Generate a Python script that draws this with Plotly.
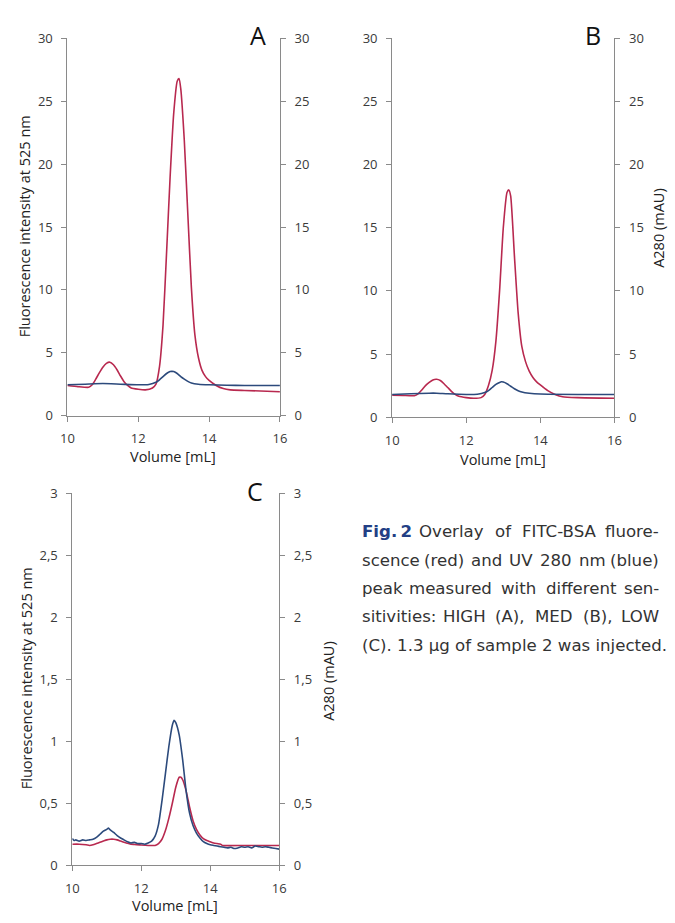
import plotly.graph_objects as go

W, H = 675, 923

# ---------------- data ----------------
# Panel A (HIGH)
a_red_x = [10.0, 10.3, 10.6, 10.7, 10.8, 10.9, 11.0, 11.1, 11.2, 11.3, 11.4, 11.5, 11.6, 11.7, 11.8, 12.0, 12.2,
           12.4, 12.5, 12.6, 12.7, 12.8, 12.9, 13.0, 13.1, 13.15, 13.2, 13.3, 13.4, 13.5, 13.6, 13.7, 13.8, 13.9,
           14.0, 14.2, 14.4, 14.6, 15.0, 16.0]
a_red_y = [2.4, 2.3, 2.25, 2.45, 2.9, 3.4, 3.85, 4.15, 4.25, 4.05, 3.65, 3.15, 2.7, 2.4, 2.2, 2.1, 2.05,
           2.2, 2.5, 3.9, 7.2, 13.0, 19.0, 24.0, 26.6, 26.8, 26.0, 21.9, 16.0, 10.2, 6.4, 4.6, 3.6, 3.1,
           2.8, 2.4, 2.15, 2.05, 2.0, 1.9]
a_blue_x = [10.0, 10.5, 11.0, 11.5, 12.0, 12.3, 12.5, 12.6, 12.7, 12.8, 12.9, 12.95, 13.0, 13.1, 13.2, 13.3,
            13.4, 13.5, 13.7, 14.0, 14.5, 15.0, 16.0]
a_blue_y = [2.45, 2.5, 2.55, 2.5, 2.45, 2.48, 2.65, 2.85, 3.1, 3.35, 3.5, 3.52, 3.5, 3.35, 3.1, 2.9,
            2.72, 2.6, 2.5, 2.45, 2.42, 2.4, 2.4]

# Panel B (MED)
b_red_x = [10.0, 10.3, 10.6, 10.7, 10.8, 10.9, 11.0, 11.1, 11.2, 11.3, 11.4, 11.5, 11.6, 11.7, 11.8, 12.0, 12.2,
           12.4, 12.5, 12.6, 12.7, 12.8, 12.9, 13.0, 13.1, 13.15, 13.2, 13.3, 13.4, 13.5, 13.6, 13.7, 13.8,
           13.9, 14.0, 14.2, 14.4, 14.6, 15.0, 16.0]
b_red_y = [1.75, 1.72, 1.7, 1.85, 2.15, 2.5, 2.75, 2.95, 3.0, 2.9, 2.65, 2.35, 2.05, 1.8, 1.65, 1.55, 1.5,
           1.55, 1.8, 2.5, 3.7, 6.0, 10.0, 15.0, 17.8, 18.0, 17.5, 12.8, 8.3, 5.6, 4.4, 3.65, 3.15,
           2.8, 2.55, 2.1, 1.8, 1.62, 1.55, 1.5]
b_blue_x = [10.0, 10.5, 11.0, 11.2, 11.5, 12.0, 12.3, 12.5, 12.6, 12.7, 12.8, 12.9, 12.95, 13.0, 13.1, 13.2,
            13.3, 13.4, 13.5, 13.7, 14.0, 15.0, 16.0]
b_blue_y = [1.8, 1.85, 1.9, 1.9, 1.85, 1.8, 1.82, 1.95, 2.1, 2.35, 2.6, 2.75, 2.8, 2.78, 2.65, 2.45,
            2.25, 2.1, 2.0, 1.9, 1.83, 1.8, 1.8]

# Panel C (LOW)
c_red_x = [10.0, 10.2, 10.4, 10.5, 10.6, 10.7, 10.8, 10.9, 11.0, 11.1, 11.2, 11.3, 11.4, 11.5, 11.6, 11.7, 11.8,
           12.0, 12.2, 12.4, 12.5, 12.6, 12.7, 12.8, 12.9, 13.0, 13.1, 13.15, 13.2, 13.3, 13.4, 13.5, 13.6,
           13.7, 13.8, 13.9, 14.0, 14.1, 14.2, 14.3, 14.35, 15.0, 16.0]
c_red_y = [0.17, 0.17, 0.165, 0.16, 0.165, 0.175, 0.185, 0.195, 0.205, 0.21, 0.21, 0.205, 0.195, 0.185, 0.178,
           0.17, 0.168, 0.163, 0.16, 0.16, 0.175, 0.21, 0.28, 0.38, 0.5, 0.63, 0.71, 0.71, 0.69, 0.6, 0.47,
           0.36, 0.29, 0.245, 0.215, 0.2, 0.19, 0.18, 0.175, 0.17, 0.16, 0.16, 0.16]
c_blue_x = [10.0, 10.05, 10.1, 10.2, 10.3, 10.4, 10.5, 10.6, 10.7, 10.8, 10.9, 11.0, 11.05, 11.1, 11.2, 11.3,
            11.4, 11.5, 11.6, 11.7, 11.8, 11.9, 12.0, 12.1, 12.2, 12.3, 12.4, 12.5, 12.6, 12.7, 12.8, 12.9,
            12.95, 13.0, 13.1, 13.2, 13.3, 13.4, 13.5, 13.6, 13.7, 13.8, 13.9, 14.0, 14.1, 14.2, 14.3, 14.4,
            14.5, 14.6, 14.7, 14.8, 14.9, 15.0, 15.1, 15.2, 15.3, 15.4, 15.5, 15.6, 15.7, 15.8, 15.9, 16.0]
c_blue_y = [0.215, 0.2, 0.205, 0.195, 0.205, 0.2, 0.205, 0.21, 0.225, 0.25, 0.275, 0.29, 0.3, 0.285, 0.265, 0.24,
            0.22, 0.205, 0.19, 0.18, 0.185, 0.175, 0.175, 0.17, 0.18, 0.195, 0.235, 0.33, 0.52, 0.74, 0.96, 1.13,
            1.17, 1.15, 1.05, 0.85, 0.6, 0.42, 0.32, 0.26, 0.22, 0.19, 0.175, 0.165, 0.16, 0.155, 0.15, 0.145,
            0.14, 0.145, 0.135, 0.14, 0.15, 0.145, 0.15, 0.14, 0.155, 0.15, 0.145, 0.15, 0.145, 0.14, 0.135, 0.13]

x_ticks = [10, 12, 14, 16]
ab_y_ticks = [0, 5, 10, 15, 20, 25, 30]
c_y_ticks = [0, 0.5, 1, 1.5, 2, 2.5, 3]
c_y_ticktext = ["0", "0,5", "1", "1,5", "2", "2,5", "3"]

caption_label = "Fig.\u202f2"
caption_words = [
    ["Overlay", "of", "FITC-BSA", "fluore-"],
    ["scence", "(red)", "and", "UV", "280", "nm", "(blue)"],
    ["peak", "measured", "with", "different", "sen-"],
    ["sitivities:", "HIGH", "(A),", "MED", "(B),", "LOW"],
]
caption_last = "(C). 1.3 \u00b5g of sample 2 was injected."

# ---------------- styling / layout ----------------
RED = "#b8294f"
BLUE = "#2c4a7c"
AXC = "#8a8a8a"
TXT = "#3a3a3a"
FONT = "Open Sans"
CAPFONT = "DejaVu Sans"
CAP_SIZE = 16.6
CAP_LEFT, CAP_RIGHT = 360, 668
CAP_TOP, CAP_STEP = 533, 29

# approximate DejaVu Sans advance widths (em) used to justify the caption lines
_REG = {" ": .318, "(": .390, ")": .390, ",": .318, "-": .361, ".": .318, ":": .337,
        "A": .684, "B": .686, "C": .698, "D": .770, "E": .632, "F": .575, "G": .775, "H": .752, "I": .295,
        "L": .557, "M": .863, "O": .787, "S": .635, "T": .611, "U": .732, "V": .684, "W": .989,
        "a": .613, "b": .635, "c": .550, "d": .635, "e": .615, "f": .352, "g": .635, "h": .634, "i": .278,
        "k": .579, "l": .278, "m": .974, "n": .634, "o": .612, "p": .635, "r": .411, "s": .521, "t": .392,
        "u": .634, "v": .592, "w": .818, "y": .592}
_BOLD = {"F": .683, "i": .343, "g": .716, ".": .380, "2": .696, "\u202f": .2}


def text_w(s, bold=False):
    tab = _BOLD if bold else _REG
    return sum(tab.get(ch, _REG.get(ch, .636)) for ch in s) * CAP_SIZE


def px_x(p):
    return p / W


def px_y(p):
    return 1 - p / H


fig = go.Figure()

panels = [
    dict(x="x", yl="y", yr="y2", xd=(61.7, 278.7), yd=(30, 414.7),
         red=(a_red_x, a_red_y), blue=(a_blue_x, a_blue_y), yr_=(0, 30)),
    dict(x="x2", yl="y3", yr="y4", xd=(393.3, 620.3), yd=(30, 416.3),
         red=(b_red_x, b_red_y), blue=(b_blue_x, b_blue_y), yr_=(0, 30)),
    dict(x="x3", yl="y5", yr="y6", xd=(66.7, 278.0), yd=(494, 873.3),
         red=(c_red_x, c_red_y), blue=(c_blue_x, c_blue_y), yr_=(0, 3)),
]

layout = dict(
    width=W, height=H, margin=dict(l=0, r=0, t=0, b=0),
    paper_bgcolor="white", plot_bgcolor="white", showlegend=False,
    font=dict(family=FONT, size=13, color=TXT),
)

for i, p in enumerate(panels):
    fig.add_trace(go.Scatter(x=p["blue"][0], y=p["blue"][1], mode="lines", xaxis=p["x"], yaxis=p["yr"],
                             line=dict(color=BLUE, width=1.6, shape="spline", smoothing=0.5)))
    fig.add_trace(go.Scatter(x=p["red"][0], y=p["red"][1], mode="lines", xaxis=p["x"], yaxis=p["yl"],
                             line=dict(color=RED, width=1.6, shape="spline", smoothing=0.5)))
    xk = "xaxis" if p["x"] == "x" else "xaxis" + p["x"][1:]
    ylk = "yaxis" if p["yl"] == "y" else "yaxis" + p["yl"][1:]
    yrk = "yaxis" + p["yr"][1:]
    common = dict(showline=True, linecolor=AXC, linewidth=1, ticks="outside", ticklen=5, tickcolor=AXC,
                  showgrid=False, zeroline=False, ticklabelstandoff=6,
                  tickfont=dict(family=FONT, size=13, color=TXT))
    layout[xk] = dict(domain=[px_x(p["xd"][0]), px_x(p["xd"][1])], range=[10, 16], tickvals=x_ticks,
                      anchor=p["yl"], **common)
    ydom = [px_y(p["yd"][1]), px_y(p["yd"][0])]
    if i < 2:
        yt = dict(tickvals=ab_y_ticks)
    else:
        yt = dict(tickvals=c_y_ticks, ticktext=c_y_ticktext)
    layout[ylk] = dict(domain=ydom, range=list(p["yr_"]), anchor=p["x"], side="left", **yt, **common)
    layout[yrk] = dict(domain=ydom, range=list(p["yr_"]), anchor=p["x"], side="right", overlaying=p["yl"],
                       **yt, **common)

fig.update_layout(**layout)

ann = []
for txt, xp, yp in [("A", 256, 27), ("B", 598, 27), ("C", 253, 492)]:
    ann.append(dict(text=txt, x=px_x(xp), y=px_y(yp), xref="paper", yref="paper", showarrow=False,
                    xanchor="center", yanchor="middle", font=dict(family=FONT, size=25, color="#111")))
for txt, xp, yp, ang in [
    ("Fluorescence intensity at 525 nm", 18, 222, -90),
    ("Fluorescence intensity at 525 nm", 20, 683, -90),
    ("A280 (mAU)", 665, 223, -90),
    ("A280 (mAU)", 328, 685, -90),
    ("Volume [mL]", 170, 456, 0),
    ("Volume [mL]", 507, 459, 0),
    ("Volume [mL]", 172, 914, 0),
]:
    ann.append(dict(text=txt, x=px_x(xp), y=px_y(yp), xref="paper", yref="paper", showarrow=False,
                    xanchor="center", yanchor="middle", textangle=ang,
                    font=dict(family=FONT, size=14.5, color="#222")))


def cap(text, xp, yp, anchor, color="#333", bold=False):
    if bold:
        text = "<b>" + text + "</b>"
    ann.append(dict(text=text, x=px_x(xp), y=px_y(yp), xref="paper", yref="paper", showarrow=False,
                    xanchor=anchor, yanchor="middle",
                    font=dict(family=CAPFONT, size=CAP_SIZE, color=color)))


# justified caption lines: equal gaps between words, first word at the left edge, last at the right
for k, words in enumerate(caption_words):
    yp = CAP_TOP + CAP_STEP * k
    items = [(w, False) for w in words]
    if k == 0:
        items = [(caption_label, True)] + items
    widths = [text_w(w, b) for w, b in items]
    gap = (CAP_RIGHT - CAP_LEFT - sum(widths)) / (len(items) - 1)
    xpos = CAP_LEFT
    for j, ((w, b), wd) in enumerate(zip(items, widths)):
        colour = "#233f85" if b else "#333"
        if j == 0:
            cap(w, CAP_LEFT, yp, "left", color=colour, bold=b)
        elif j == len(items) - 1:
            cap(w, CAP_RIGHT, yp, "right", color=colour, bold=b)
        else:
            cap(w, xpos + wd / 2, yp, "center", color=colour, bold=b)
        xpos += wd + gap
cap(caption_last, CAP_LEFT, CAP_TOP + CAP_STEP * 4, "left")

fig.update_layout(annotations=ann)

fig.write_html("out.html", config={"displayModeBar": False},
               post_script="document.body.style.margin='0';")
